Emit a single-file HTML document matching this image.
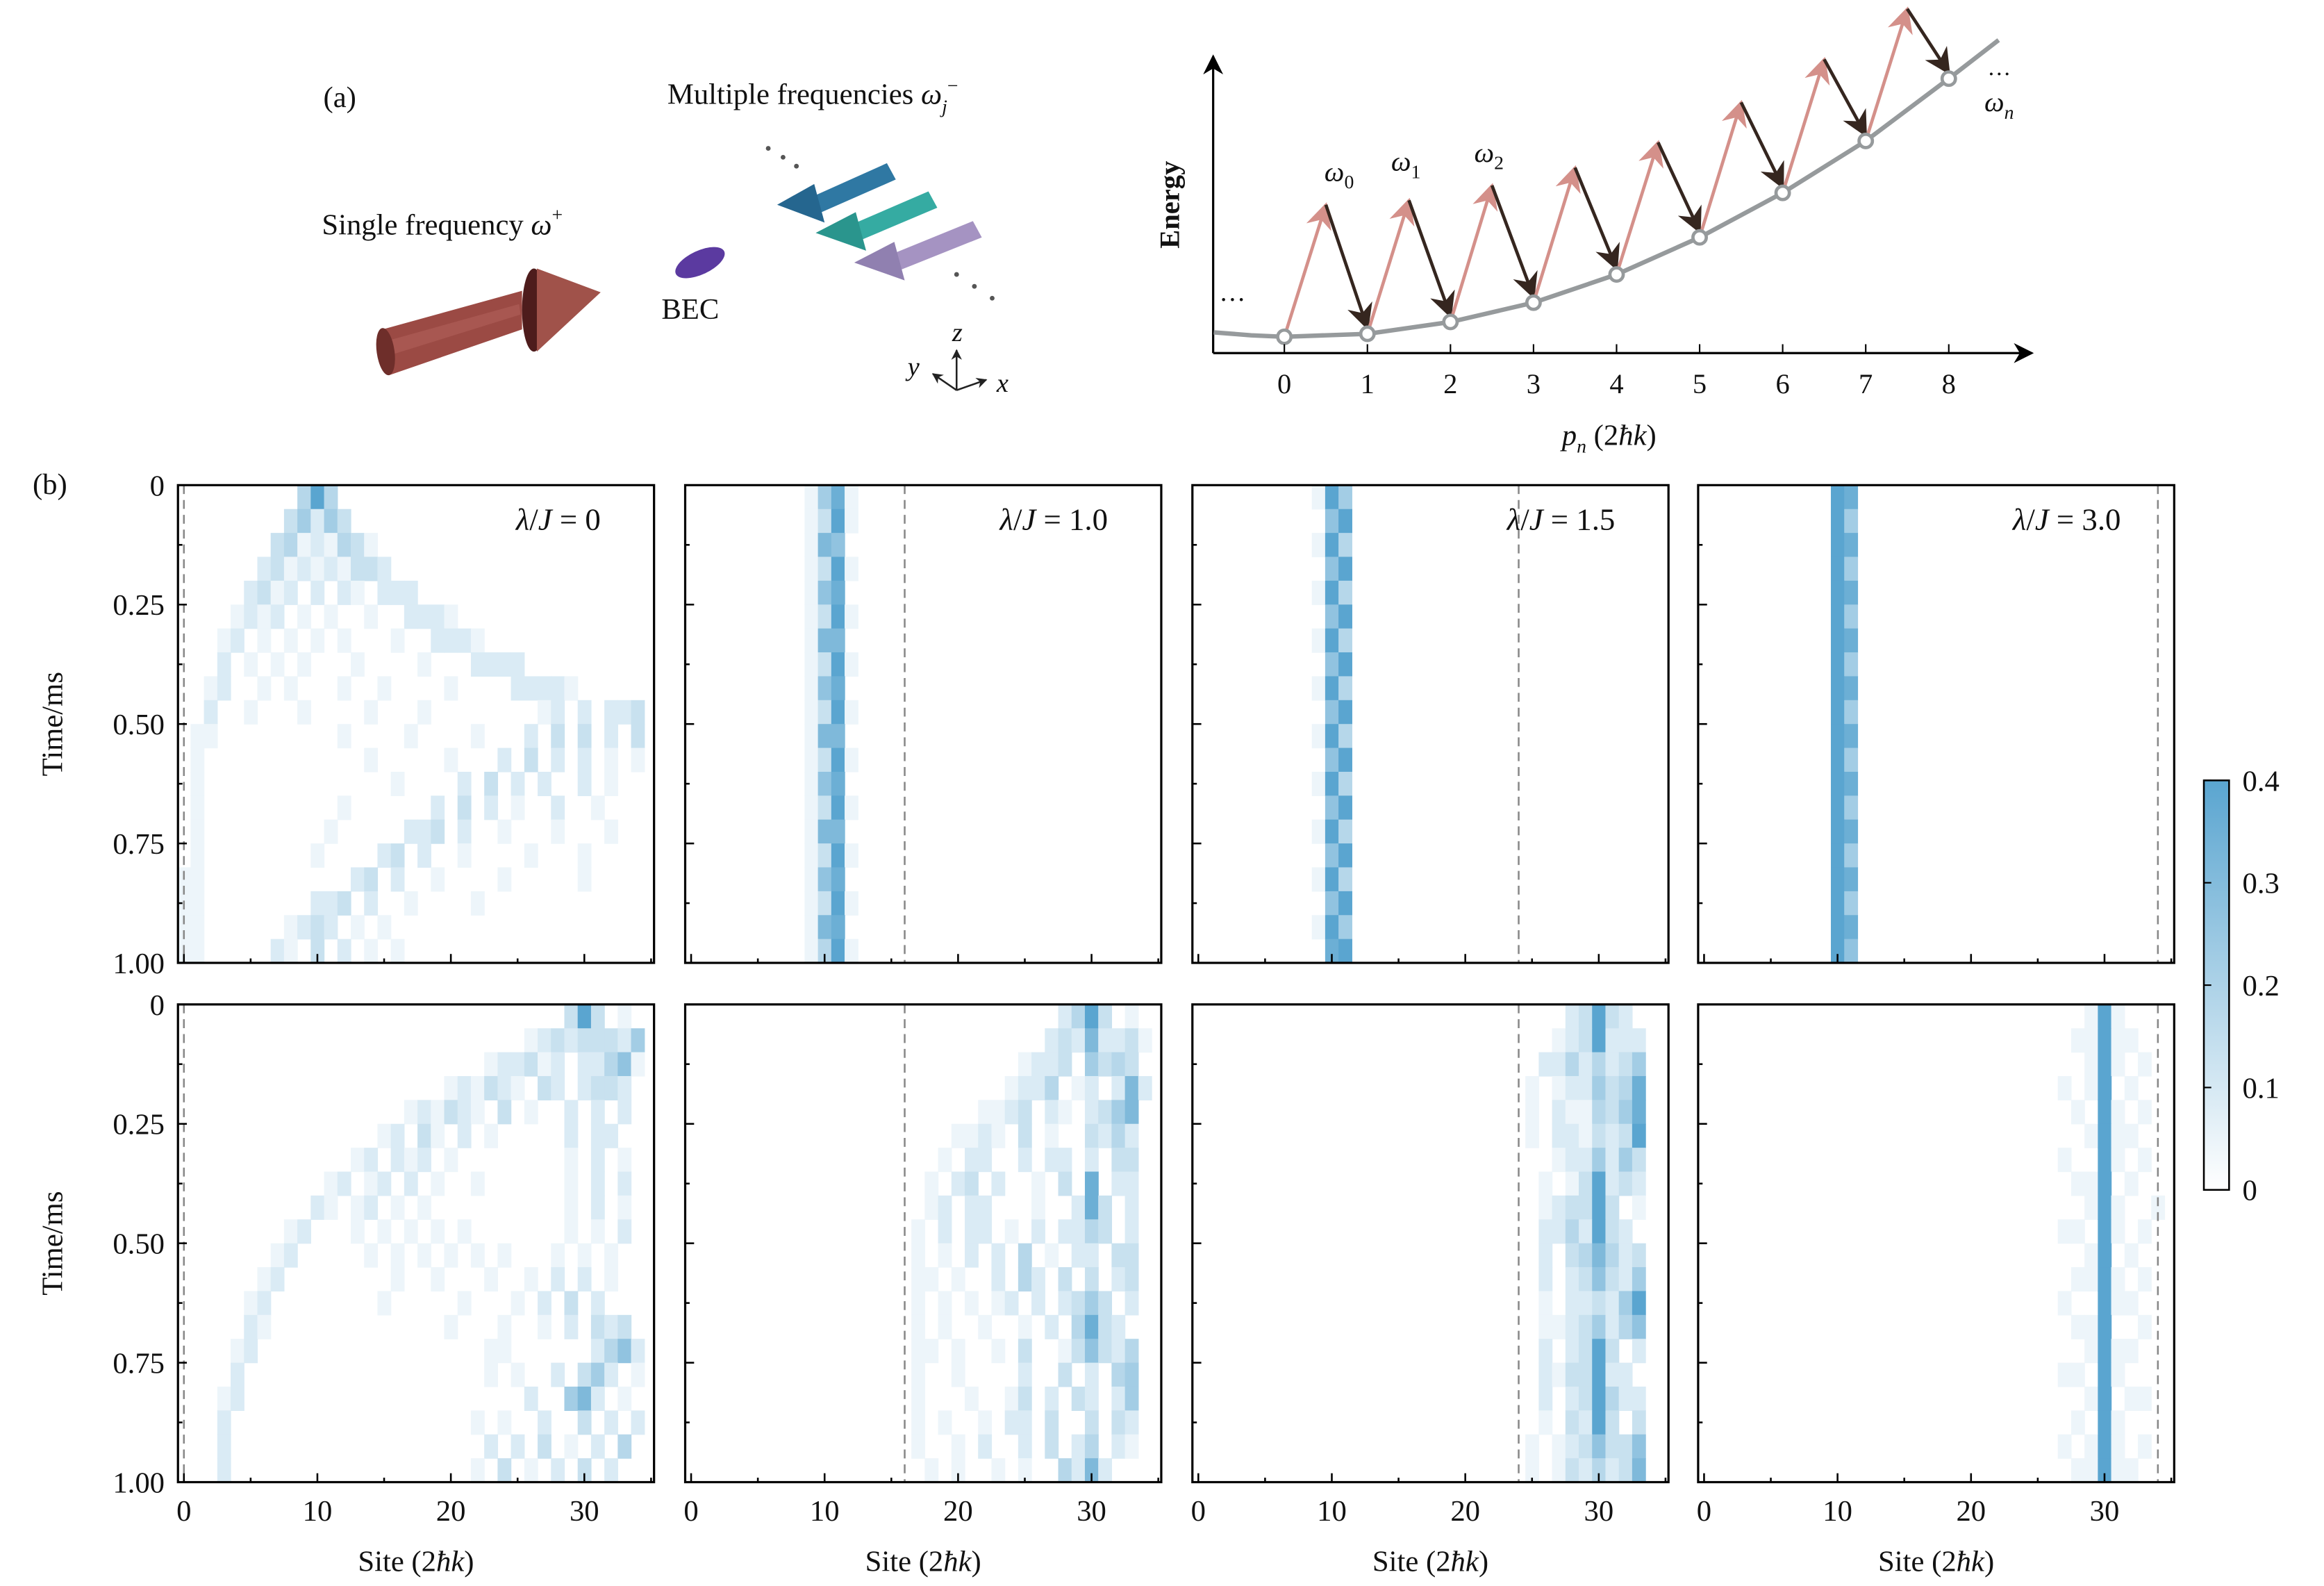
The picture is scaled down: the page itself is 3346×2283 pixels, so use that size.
<!DOCTYPE html>
<html><head><meta charset="utf-8">
<style>
html,body{margin:0;padding:0;background:#fff;}
svg{display:block;}
text{font-family:"Liberation Serif",serif;fill:#111;}
</style></head>
<body>
<svg id="fig" xmlns="http://www.w3.org/2000/svg" width="3346" height="2283" viewBox="0 0 1567 1069" preserveAspectRatio="none">
<defs>
<linearGradient id="cbgrad" x1="0" y1="1" x2="0" y2="0">
<stop offset="0" stop-color="#ffffff"/><stop offset="1" stop-color="#5aa5d0"/>
</linearGradient>
<marker id="ah-k" viewBox="0 0 10 10" refX="9" refY="5" markerWidth="9" markerHeight="9" orient="auto"><path d="M0,0 L10,5 L0,10 L3,5 z" fill="#000"/></marker>
<marker id="ah-p" viewBox="0 0 10 10" refX="9" refY="5" markerWidth="8" markerHeight="8" orient="auto"><path d="M0,0 L10,5 L0,10 L3,5 z" fill="#d4908a"/></marker>
<marker id="ah-d" viewBox="0 0 10 10" refX="9" refY="5" markerWidth="8" markerHeight="8" orient="auto"><path d="M0,0 L10,5 L0,10 L3,5 z" fill="#35261f"/></marker>
<marker id="ah-s" viewBox="0 0 10 10" refX="9" refY="5" markerWidth="6" markerHeight="6" orient="auto"><path d="M0,0 L10,5 L0,10 L3,5 z" fill="#222"/></marker>
</defs>

<g>
<text x="218" y="72" font-size="20">(a)</text>
<text x="450" y="70" font-size="20">Multiple frequencies <tspan font-style="italic">ω</tspan><tspan font-style="italic" font-size="13" dy="6">j</tspan><tspan font-size="13" dy="-14">−</tspan></text>
<text x="217" y="158" font-size="20">Single frequency <tspan font-style="italic">ω</tspan><tspan font-size="13" dy="-9">+</tspan></text>
<text x="446" y="215" font-size="20">BEC</text>
<g>
<polygon points="258,222 352,196 352,222 262,253" fill="#9b4a44"/>
<polygon points="260,230 350,205 351,212 261,240" fill="#b0605a" opacity="0.6"/>
<ellipse cx="260" cy="237" rx="6" ry="16" fill="#6e2e2a" transform="rotate(-8 260 237)"/>
<ellipse cx="360" cy="209" rx="8" ry="28" fill="#4e1c1c"/>
<polygon points="362,181 405,197 362,237" fill="#a0524a"/>
</g>
<ellipse cx="472" cy="177" rx="18" ry="8" fill="#5b3aa0" transform="rotate(-25 472 177)"/>
<g>
<polygon points="598,110 604,121 554,143 549,132" fill="#2f78a3"/>
<polygon points="549,124 556,150 524,138" fill="#25668f"/>
<polygon points="626,129 632,140 580,162 575,151" fill="#35aba2"/>
<polygon points="577,143 584,169 550,157" fill="#2a958d"/>
<polygon points="656,149 662,160 607,182 602,171" fill="#a593c2"/>
<polygon points="603,163 610,189 576,177" fill="#9080b0"/>
</g>
<g fill="#555">
<circle cx="518" cy="100" r="1.6"/><circle cx="528" cy="106" r="1.6"/><circle cx="537" cy="112" r="1.6"/>
<circle cx="645" cy="185" r="1.6"/><circle cx="657" cy="193" r="1.6"/><circle cx="669" cy="201" r="1.6"/>
</g>
<g stroke="#222" stroke-width="1.2" fill="none">
<line x1="645" y1="263" x2="645" y2="236" marker-end="url(#ah-s)"/>
<line x1="645" y1="263" x2="629" y2="252" marker-end="url(#ah-s)"/>
<line x1="645" y1="263" x2="665" y2="256" marker-end="url(#ah-s)"/>
</g>
<text x="642" y="230" font-size="18" font-style="italic">z</text>
<text x="612" y="253" font-size="18" font-style="italic">y</text>
<text x="672" y="264" font-size="18" font-style="italic">x</text>
</g>

<g id="energy">
<line x1="818" y1="238" x2="818" y2="38" stroke="#000" stroke-width="1.5" marker-end="url(#ah-k)"/>
<line x1="818" y1="238" x2="1370" y2="238" stroke="#000" stroke-width="1.5" marker-end="url(#ah-k)"/>
<text transform="translate(795,138) rotate(-90)" text-anchor="middle" font-size="19" font-weight="bold">Energy</text>
<text x="1085" y="300" text-anchor="middle" font-size="20"><tspan font-style="italic">p</tspan><tspan font-style="italic" font-size="13" dy="5">n</tspan><tspan dy="-5"> (2</tspan><tspan font-style="italic">ħk</tspan>)</text>
<text x="893" y="122" font-size="19" font-style="italic">ω<tspan font-size="13" dy="5" font-style="normal">0</tspan></text>
<text x="938" y="115" font-size="19" font-style="italic">ω<tspan font-size="13" dy="5" font-style="normal">1</tspan></text>
<text x="994" y="109" font-size="19" font-style="italic">ω<tspan font-size="13" dy="5" font-style="normal">2</tspan></text>
<text x="822" y="208" font-size="18">···</text>
<text x="1340" y="55" font-size="16">···</text>
<text x="1338" y="75" font-size="19" font-style="italic">ω<tspan font-size="13" dy="5">n</tspan></text>
</g>

<text x="22" y="333" font-size="20">(b)</text>
<g id="panels"></g>
<g id="cbar">
<rect x="1486" y="526" width="17" height="276" fill="url(#cbgrad)" stroke="#000" stroke-width="1.2"/>
</g>
</svg>

<script>
const levelN = [0,1,2,3,4,5,6,7,8];
const levelEnergy = [11,13,21,34,53,78,108,143,185];
const peakEnergy = [100,103,113,125,142,169,198,232];
const curveP = [-0.85,-0.4,0,1,2,3,4,5,6,7,8,8.6];
const curveE = [14,12,11,13,21,34,53,78,108,143,185,211];

const lambdaLabels = ["0","1.0","1.5","3.0"];
const dashedSites = [0,16,24,34];
const timeTicks = ["0","0.25","0.50","0.75","1.00"];
const siteTicks = ["0","10","20","30"];
const cbarTicks = ["0","0.1","0.2","0.3","0.4"];

const top0 = ["9:4 10:9 11:4","8:3 9:5 10:2 11:5 12:3","7:3 8:4 9:1 10:2 11:1 12:4 13:3 14:1","6:2 7:3 8:1 9:2 10:1 11:2 12:1 13:3 14:3 15:2","5:2 6:3 7:1 8:2 10:2 12:2 13:1 15:2 16:2 17:2","4:1 5:2 6:1 7:2 9:1 11:1 14:1 17:2 18:2 19:2 20:1","3:1 4:2 6:1 8:1 10:1 12:1 16:1 19:2 20:2 21:2 22:1","3:2 5:1 7:1 9:1 13:1 18:1 22:2 23:2 24:2 25:2","2:1 3:2 6:1 8:1 12:1 15:1 20:1 25:2 26:2 27:2 28:2 29:1","2:2 5:1 9:1 14:1 18:1 27:1 28:2 30:2 32:2 33:2 34:3","1:1 2:1 12:1 17:1 22:1 26:2 28:3 30:3 32:2 34:3","1:1 14:1 20:1 24:2 26:3 28:2 30:2 32:1 34:1","1:1 16:1 21:2 23:3 25:2 27:2 30:2 32:1","1:1 12:1 19:2 21:3 23:2 25:1 28:2 31:1","1:1 11:1 17:2 18:2 19:3 21:2 24:1 28:1 32:1","1:1 10:1 15:2 16:3 18:2 21:1 26:1 30:1","0:1 1:1 13:2 14:3 16:2 19:1 24:1 30:1","0:1 1:1 10:2 11:2 12:3 14:2 17:1 22:1","0:1 1:1 8:1 9:2 10:3 11:2 13:1 15:1","0:1 1:1 7:2 8:1 10:3 12:2 14:1 16:1"];
const top1 = ["9:1 10:5 11:8 12:1","9:1 10:3 11:9 12:1","9:1 10:7 11:6","9:1 10:3 11:9 12:1","9:1 10:6 11:8","9:1 10:3 11:9 12:1","9:1 10:7 11:7","9:1 10:3 11:9 12:1","9:1 10:6 11:8","9:1 10:3 11:9 12:1","9:1 10:7 11:7","9:1 10:3 11:9 12:1","9:1 10:6 11:8","9:1 10:3 11:9 12:1","9:1 10:7 11:7","9:1 10:3 11:9 12:1","9:1 10:6 11:8","9:1 10:3 11:9 12:1","9:1 10:7 11:8","9:1 10:4 11:9 12:1"];
const top2 = ["9:1 10:9 11:5","10:6 11:9","9:1 10:9 11:4","10:6 11:9","9:1 10:9 11:4","10:6 11:9","9:1 10:9 11:4","10:6 11:9","9:1 10:9 11:4","10:6 11:9","9:1 10:9 11:4","10:6 11:9","9:1 10:9 11:4","10:6 11:9","9:1 10:9 11:4","10:6 11:9","9:1 10:9 11:4","10:6 11:9","9:1 10:9 11:5","10:8 11:9"];
const top3 = ["10:9 11:8","10:9 11:5","10:9 11:8","10:9 11:5","10:9 11:8","10:9 11:5","10:9 11:8","10:9 11:5","10:9 11:8","10:9 11:5","10:9 11:8","10:9 11:5","10:9 11:8","10:9 11:5","10:9 11:8","10:9 11:5","10:9 11:8","10:9 11:5","10:9 11:8","10:9 11:6"];
const bot0 = ["29:3 30:9 31:3 33:1","26:1 27:2 28:3 29:2 30:3 31:3 32:3 33:2 34:5","23:1 24:2 25:2 26:3 27:1 28:2 30:2 31:2 32:4 33:6 34:1","20:1 21:2 22:1 23:3 24:2 25:1 27:3 28:2 30:2 31:3 32:3 33:2","17:1 18:2 19:1 20:3 21:2 22:1 24:3 26:1 29:2 31:2 33:2","15:1 16:2 18:3 19:1 21:2 23:1 29:2 31:2 32:2","13:1 14:2 16:2 17:1 18:2 20:1 29:1 31:2 33:1","11:1 12:2 14:1 15:2 17:2 19:1 22:1 29:1 31:2 33:2","10:2 11:1 13:1 14:2 16:1 18:1 29:1 31:2 33:1","8:1 9:2 13:1 15:1 17:1 19:1 21:1 29:1 31:1 33:2","7:1 8:2 14:1 16:1 18:1 20:1 22:1 24:1 28:1 30:1 32:1","6:1 7:2 16:1 19:1 23:1 26:1 28:2 30:2 32:1","5:1 6:2 15:1 21:1 25:1 27:2 29:3 31:2","5:2 6:1 20:1 24:1 27:1 29:2 31:3 32:2 33:3","4:1 5:2 23:1 24:1 31:2 32:4 33:6 34:2","4:2 23:1 25:1 28:2 30:3 31:5 32:2 34:1","3:1 4:2 26:2 29:5 30:7 31:2 33:1","3:2 22:1 24:1 27:2 30:3 32:2 34:2","3:2 23:2 25:2 27:3 29:1 31:2 33:4","3:2 22:1 24:3 26:1 28:2 30:3 32:2"];
const bot1 = ["28:2 29:4 30:9 31:3 33:1","27:2 28:3 29:2 30:7 31:2 32:2 33:3 34:1","25:1 26:2 27:2 28:3 30:5 31:3 32:4 33:3","24:1 25:2 26:2 27:4 29:1 30:2 32:2 33:7 34:2","22:1 23:1 24:2 25:3 27:2 28:1 30:2 31:3 32:5 33:7","20:1 21:1 22:2 23:1 25:3 27:1 30:3 31:2 32:4 33:2","19:1 21:2 22:2 25:2 27:2 28:2 30:2 32:3 33:3","18:1 20:2 21:3 23:2 26:1 28:3 30:8 32:2 33:2","18:1 19:2 21:2 22:2 26:1 29:2 30:8 31:3 33:2","17:1 19:2 21:2 22:2 24:1 26:2 28:2 29:2 30:4 31:3 33:2","17:1 19:1 21:2 23:2 25:4 27:1 29:2 30:2 32:3 33:3","17:1 18:1 20:1 23:2 25:4 26:2 28:3 30:3 32:2 33:3","17:1 19:1 21:1 23:1 24:2 26:2 28:2 29:3 30:5 31:3 33:2","17:1 19:1 22:1 25:1 27:2 29:4 30:8 31:3 32:2","17:1 18:1 20:1 23:1 25:3 28:1 29:3 30:6 31:3 32:2 33:4","17:1 20:1 25:2 28:3 30:2 32:4 33:5","17:1 21:1 24:1 25:3 27:2 29:3 30:2 32:2 33:5","17:1 19:1 22:1 24:2 25:2 27:3 30:3 32:3 33:2","17:1 20:1 22:2 25:2 27:3 29:2 30:4 32:2 33:1","18:1 20:1 23:1 25:1 28:4 29:2 30:7 31:2"];
const bot2 = ["28:2 29:3 30:9 31:3 32:2","27:1 28:2 29:3 30:9 31:2 32:2 33:2","26:2 27:2 28:4 29:2 30:4 31:2 32:3 33:5","25:1 27:1 28:2 29:2 30:5 31:3 32:4 33:8","25:1 27:2 28:1 29:1 30:4 31:3 32:5 33:8","25:1 27:2 28:2 29:1 30:3 31:2 32:3 33:9","27:1 28:2 29:2 30:5 31:2 32:5 33:3","26:1 28:1 29:3 30:9 31:2 32:3 33:2","26:1 27:2 28:3 29:3 30:9 31:3 33:1","26:2 27:2 28:4 29:2 30:9 31:3 32:2","26:2 28:3 29:4 30:7 31:4 32:2 33:3","26:2 28:2 29:3 30:6 31:3 32:2 33:5","26:1 28:2 29:2 30:3 31:2 32:5 33:9","26:1 27:1 28:2 29:3 30:5 31:2 32:4 33:6","26:2 28:2 29:3 30:9 31:3 33:2","26:2 27:1 28:3 29:3 30:9 31:2 32:2","26:2 28:2 29:3 30:9 31:4 32:2 33:2","26:1 28:3 29:2 30:9 31:3 33:3","25:1 27:1 28:2 29:3 30:6 31:3 32:3 33:6","25:1 27:1 28:3 29:2 30:4 31:2 32:3 33:7"];
const bot3 = ["29:1 30:9 31:1","28:1 29:1 30:9 31:1 32:1","29:1 30:9 31:1 33:1","27:1 29:1 30:9 32:1","28:1 30:9 31:1 33:1","29:1 30:9 31:1 32:1","27:1 30:9 31:1 33:1","28:1 29:1 30:9 32:1","29:1 30:9 31:1 34:1","27:1 28:1 30:9 31:1 33:1","29:1 30:9 32:1","28:1 29:1 30:9 31:1 33:1","27:1 30:9 31:1 32:1","28:1 29:1 30:9 33:1","29:1 30:9 31:1 32:1","27:1 28:1 30:9 31:1","29:1 30:9 32:1 33:1","28:1 30:9 31:1","27:1 29:1 30:9 31:1 33:1","28:1 29:1 30:9 31:1 32:1"];
const panelRows = [top0, top1, top2, top3, bot0, bot1, bot2, bot3];

const NS = "http://www.w3.org/2000/svg";
function mk(tag, attrs, parent){ const e=document.createElementNS(NS,tag); for(const k in attrs) e.setAttribute(k,attrs[k]); if(parent) parent.appendChild(e); return e; }

(function(){
  const g = document.getElementById('energy');
  const px = p => 866 + p*56;
  const ey = E => 238 - E;
  let d = curveP.map((p,i)=>(i?'L':'M')+px(p)+','+ey(curveE[i])).join(' ');
  const curve = mk('path',{d:d,fill:'none',stroke:'#969a9c','stroke-width':3},g);
  
  
  for(let i=0;i<peakEnergy.length;i++){
    const x0=px(levelN[i]), y0=ey(levelEnergy[i]), xp=px(levelN[i]+0.5), yp=ey(peakEnergy[i]);
    const up = mk('line',{x1:x0,y1:y0,x2:xp,y2:yp,stroke:'#d4908a','stroke-width':2.2,'marker-end':'url(#ah-p)'},g);
    
    
    const dn = mk('line',{x1:xp,y1:yp,x2:px(levelN[i+1]),y2:ey(levelEnergy[i+1])-4,stroke:'#35261f','stroke-width':2.2,'marker-end':'url(#ah-d)'},g);
    
    
  }
  levelN.forEach((n,i)=>{
    const c = mk('circle',{cx:px(n),cy:ey(levelEnergy[i]),r:4.5,fill:'#fff',stroke:'#969a9c','stroke-width':2.2},g);
    
    
    mk('line',{x1:px(n),y1:238,x2:px(n),y2:232,stroke:'#000','stroke-width':1},g);
    const t = mk('text',{x:px(n),y:265,'text-anchor':'middle','font-size':19},g);
    t.textContent = String(n);
    
    
  });
})();

const colX = [120,462,804,1145];
const rowY = [327,677];
const PW = 321, PH = 322;
function color(v){
  const f = Math.max(0, Math.min(1, v/0.4));
  const r = Math.round(255 + (90-255)*f), gg = Math.round(255 + (165-255)*f), b = Math.round(255 + (208-255)*f);
  return 'rgb('+r+','+gg+','+b+')';
}
const root = document.getElementById('panels');
for(let p=0;p<8;p++){
  const ci = p%4, ri = Math.floor(p/4);
  const x0 = colX[ci], y0 = rowY[ri];
  const sx = s => x0 + 4 + s*9;
  const ty = t => y0 + t*PH;
  const g = mk('g',{},root);
  
  
  const rows = panelRows[p];
  const dt = 1/rows.length;
  rows.forEach((row,i)=>{
    row.split(' ').forEach(tok=>{
      const [s,lv] = tok.split(':').map(Number);
      const v = lv*0.0444;
      const r = mk('rect',{x:sx(s-0.5),y:ty(i*dt),width:sx(s+0.5)-sx(s-0.5)+0.3,height:ty((i+1)*dt)-ty(i*dt)+0.3,fill:color(v)},g);
      
      
    });
  });
  const dl = mk('line',{x1:sx(dashedSites[ci]),y1:y0,x2:sx(dashedSites[ci]),y2:y0+PH,stroke:'#888','stroke-width':1.2,'stroke-dasharray':'6,4'},g);
  
  
  const fr = mk('rect',{x:x0,y:y0,width:PW,height:PH,fill:'none',stroke:'#000','stroke-width':1.5},g);
  
  
  for(let k=0;k<=8;k++){
    const y = ty(k/8), len = k%2===0?6:3;
    mk('line',{x1:x0,y1:y,x2:x0+len,y2:y,stroke:'#000','stroke-width':1.2},g);
  }
  if(ci===0){
    timeTicks.forEach((lab,k)=>{
      const t = mk('text',{x:x0-9,y:ty(k*0.25)+7,'text-anchor':'end','font-size':20},g);
      t.textContent = lab;
      
      
    });
    const yt = mk('text',{transform:'translate('+(42)+','+(y0+PH/2)+') rotate(-90)','text-anchor':'middle','font-size':20},g);
    yt.textContent = 'Time/ms';
    
    
  }
  for(let s=0;s<=35;s+=5){
    const x = sx(s), len = s%10===0?6:3;
    mk('line',{x1:x,y1:y0+PH,x2:x,y2:y0+PH-len,stroke:'#000','stroke-width':1.2},g);
  }
  if(ri===1){
    siteTicks.forEach(lab=>{
      const t = mk('text',{x:sx(Number(lab)),y:y0+PH+26,'text-anchor':'middle','font-size':20},g);
      t.textContent = lab;
      
      
    });
    const xt = mk('text',{x:x0+PW/2,y:y0+PH+60,'text-anchor':'middle','font-size':20},g);
    xt.innerHTML = 'Site (2<tspan font-style="italic">ħk</tspan>)';
    
    
  } else {
    const lt = mk('text',{x:x0+PW-36,y:y0+30,'text-anchor':'end','font-size':21},g);
    lt.innerHTML = '<tspan font-style="italic">λ</tspan>/<tspan font-style="italic">J</tspan> = '+lambdaLabels[ci];
    
    
  }
}
(function(){
  const g = document.getElementById('cbar');
  const cy = v => 802 - (v/0.4)*276;
  cbarTicks.forEach(lab=>{
    const y = cy(Number(lab));
    mk('line',{x1:1486,y1:y,x2:1491,y2:y,stroke:'#000','stroke-width':1},g);
    const t = mk('text',{x:1512,y:y+7,'font-size':20},g);
    t.textContent = lab;
    
    
  });
})();
</script>
</body></html>
